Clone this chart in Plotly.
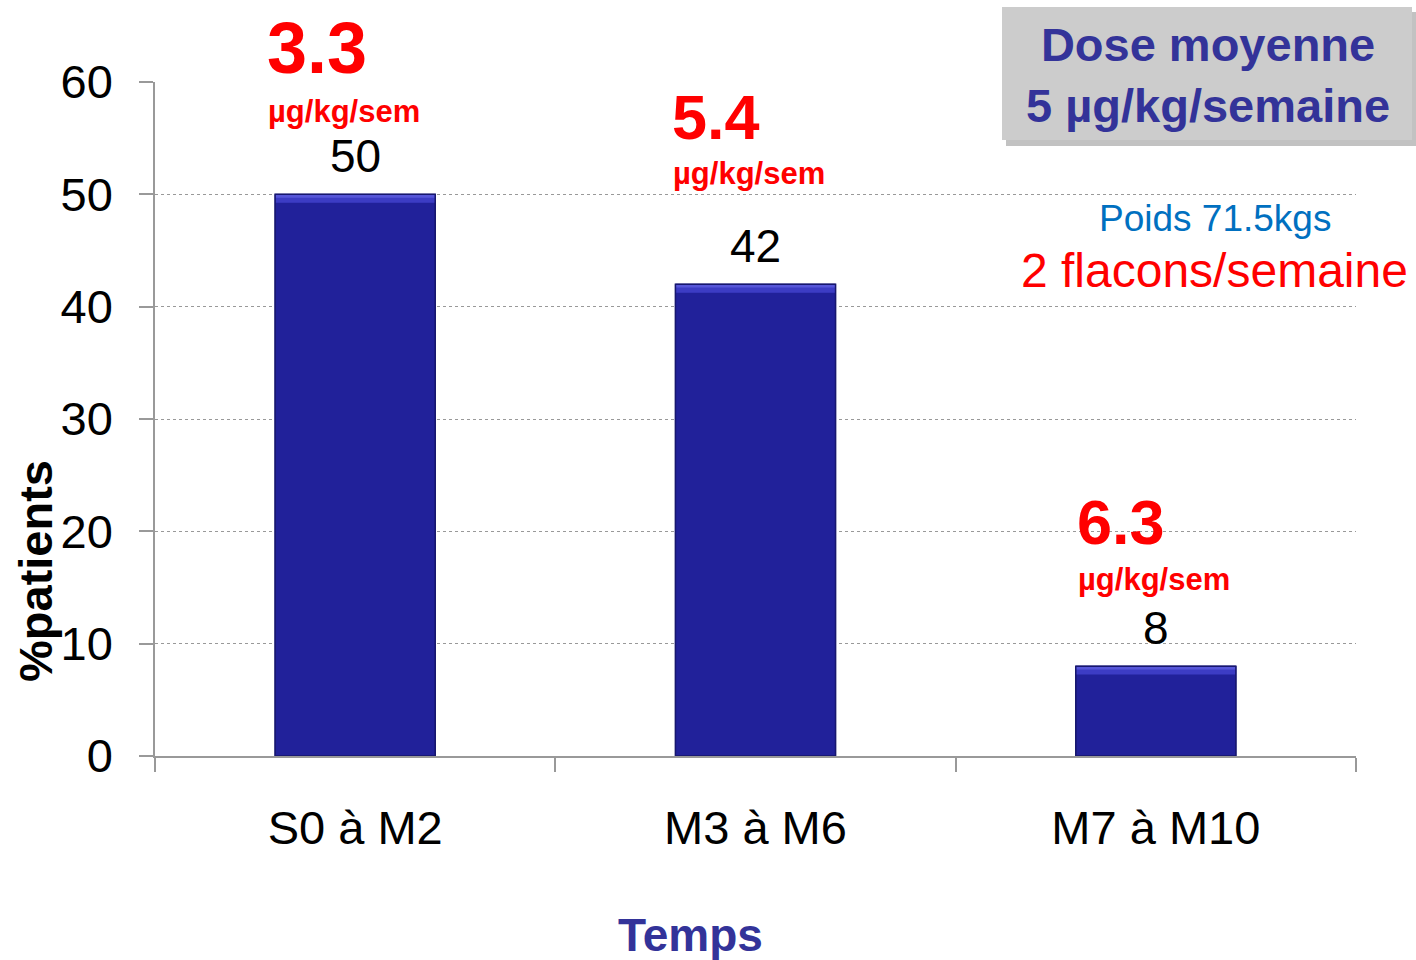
import plotly.graph_objects as go

# Data
periods = ["S0 à M2", "M3 à M6", "M7 à M10"]
pct_patients = [50, 42, 8]
mean_dose = ["3.3", "5.4", "6.3"]
dose_unit = "µg/kg/sem"
y_ticks = [0, 10, 20, 30, 40, 50, 60]

W, H = 1416, 960
L, R, T, B = 155, 60, 82, 204
PW, PH = W - L - R, H - T - B
BAR_W = 0.4


def px(x):
    return (x - L) / PW


def py(y):
    return (H - B - y) / PH


FONT = "Liberation Sans, Arial, sans-serif"
NAVY = "#333399"
RED = "#FF0000"
BAR = "#21219A"

fig = go.Figure()
fig.add_trace(go.Bar(
    x=periods,
    y=pct_patients,
    width=BAR_W,
    marker=dict(color=BAR, line=dict(color="#1A1A80", width=1)),
    hoverinfo="x+y",
))

annotations = []

# Value labels above the bars
for cat, v in zip(periods, pct_patients):
    annotations.append(dict(x=cat, y=v, xref="x", yref="y", text=str(v),
                            showarrow=False, yanchor="middle", yshift=38,
                            font=dict(family=FONT, size=46, color="black")))

# Mean dose per period (red), placed above each bar
dose_pos = [(265, 48, 72, 111), (670, 117, 63, 173), (1075, 522, 63, 579)]
for d, (xl, yd, fs, yu) in zip(mean_dose, dose_pos):
    annotations.append(dict(x=px(xl), y=py(yd), xref="paper", yref="paper",
                            text=f"<b>{d}</b>", showarrow=False, xanchor="left",
                            yanchor="middle",
                            font=dict(family=FONT, size=fs, color=RED)))
    annotations.append(dict(x=px(xl + 1), y=py(yu), xref="paper", yref="paper",
                            text=f"<b>{dose_unit}</b>", showarrow=False,
                            xanchor="left", yanchor="middle",
                            font=dict(family=FONT, size=31, color=RED)))

# Summary box
annotations.append(dict(x=px(1208), y=py(75), xref="paper", yref="paper",
                        text="<b>Dose moyenne</b><br><b>5 µg/kg/semaine</b>",
                        showarrow=False, xanchor="center", yanchor="middle",
                        align="center",
                        font=dict(family=FONT, size=47, color=NAVY)))
annotations.append(dict(x=px(1215), y=py(219), xref="paper", yref="paper",
                        text="Poids 71.5kgs", showarrow=False,
                        xanchor="center", yanchor="middle",
                        font=dict(family=FONT, size=37, color="#0070C0")))
annotations.append(dict(x=px(1214), y=py(270), xref="paper", yref="paper",
                        text="2 flacons/semaine", showarrow=False,
                        xanchor="center", yanchor="middle",
                        font=dict(family=FONT, size=48, color=RED)))

# Axis titles
annotations.append(dict(x=px(35), y=py(571), xref="paper", yref="paper",
                        text="<b>%patients</b>", showarrow=False, textangle=-90,
                        xanchor="center", yanchor="middle",
                        font=dict(family=FONT, size=47, color="black")))
annotations.append(dict(x=px(690), y=py(935), xref="paper", yref="paper",
                        text="<b>Temps</b>", showarrow=False,
                        xanchor="center", yanchor="middle",
                        font=dict(family=FONT, size=46, color=NAVY)))

shapes = [
    dict(type="rect", xref="paper", yref="paper",
         x0=px(1006), x1=px(1416), y0=py(146), y1=py(12),
         fillcolor="#9A9A9A", line=dict(width=0), layer="below", opacity=0.6),
    dict(type="rect", xref="paper", yref="paper",
         x0=px(1002), x1=px(1412), y0=py(140), y1=py(7),
         fillcolor="#CCCCCC", line=dict(width=0), layer="below"),
]

# Bevel highlight along the top of each bar
for i, v in enumerate(pct_patients):
    x0, x1 = i - BAR_W / 2, i + BAR_W / 2
    shapes.append(dict(type="rect", xref="x", yref="y", x0=x0, x1=x1,
                       y0=v - 0.75, y1=v, fillcolor="#3C3CC4",
                       line=dict(width=0), layer="above"))
    shapes.append(dict(type="rect", xref="x", yref="y", x0=x0, x1=x1,
                       y0=v - 0.3, y1=v, fillcolor="#5656D8",
                       line=dict(width=0), layer="above"))
    shapes.append(dict(type="rect", xref="x", yref="y", x0=x0, x1=x1,
                       y0=0, y1=v, fillcolor="rgba(0,0,0,0)",
                       line=dict(color="#17176E", width=1.5), layer="above"))

fig.update_layout(
    width=W, height=H,
    margin=dict(l=L, r=R, t=T, b=B),
    paper_bgcolor="white", plot_bgcolor="white",
    showlegend=False,
    annotations=annotations,
    shapes=shapes,
    xaxis=dict(
        type="category",
        tickson="boundaries",
        ticks="outside", ticklen=14, tickcolor="#999999", tickwidth=1.5,
        showline=True, linecolor="#999999", linewidth=1.5,
        showgrid=False,
        tickfont=dict(family=FONT, size=47, color="black"),
        ticklabelstandoff=30,
    ),
    yaxis=dict(
        range=[0, 60],
        tickvals=y_ticks,
        ticks="outside", ticklen=14, tickcolor="#999999", tickwidth=1.5,
        showline=True, linecolor="#999999", linewidth=1.5,
        showgrid=True, gridcolor="#999999", gridwidth=1, griddash="dot",
        zeroline=False,
        tickfont=dict(family=FONT, size=47, color="black"),
        ticklabelstandoff=17,
    ),
)

fig.write_html("out.html")
